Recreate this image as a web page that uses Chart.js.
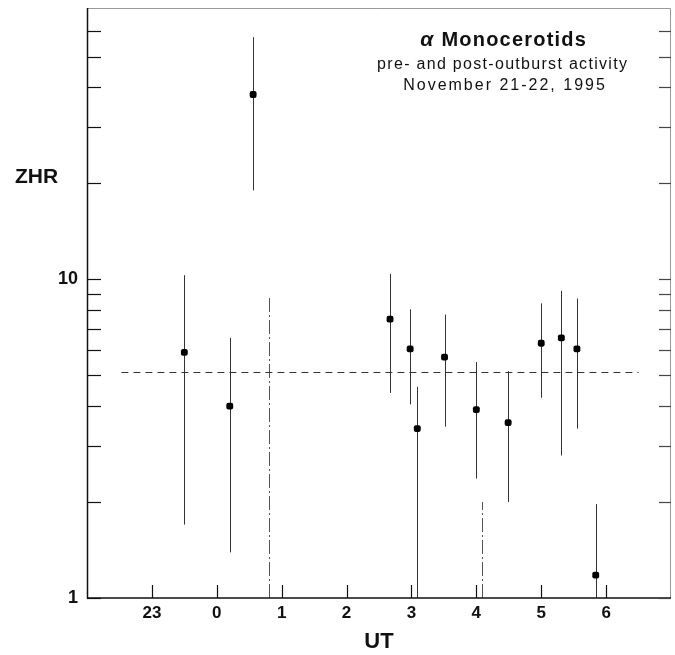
<!DOCTYPE html>
<html>
<head>
<meta charset="utf-8">
<script src="https://cdn.jsdelivr.net/npm/chart.js@4/dist/chart.umd.min.js"></script>
<style>
  html,body{margin:0;padding:0;background:#fff;}
  #wrap{width:675px;height:655px;}
</style>
</head>
<body>
<div id="wrap"><canvas id="c" width="675" height="655"></canvas></div>
<script>
// UT hours, 0 = 0h UT, negative = before midnight (22h, 23h)
const xHours  = [-0.5, 0.2, 0.56, 2.67, 2.98, 3.09, 3.51, 4.0, 4.49, 5.0, 5.31, 5.55, 5.84];
const zhr     = [5.9, 4.0, 38, 7.5, 6.05, 3.4, 5.7, 3.9, 3.55, 6.3, 6.55, 6.05, 1.18];
const zhrHigh = [10.3, 6.55, 57.5, 10.4, 8.05, 4.6, 7.75, 5.5, 5.15, 8.4, 9.2, 8.7, 1.97];
const zhrLow  = [1.7, 1.39, 19, 4.4, 4.05, 1, 3.45, 2.37, 2.0, 4.25, 2.8, 3.4, 1];

// intervals with no meteors seen: only an upper limit
const limitHours = [0.8, 4.08];
const limitHigh  = [8.8, 2.0];

// mean level (dashed)
const meanZhr  = 5.1;
const meanSpan = [-1.47, 6.5];

const xTickVals   = [-1, 0, 1, 2, 3, 4, 5, 6];
const xTickLabels = ['23', '0', '1', '2', '3', '4', '5', '6'];
const yTickVals   = [1, 2, 3, 4, 5, 6, 7, 8, 9, 10, 20, 30, 40, 50, 60];
const yTickLabels = {1: '1', 10: '10'};

const FONT = '"Liberation Sans", Arial, Helvetica, sans-serif';

// text with spacing, centred on cx
function spacedText(ctx, txt, cx, y, font, sp){
  ctx.font = font;
  ctx.letterSpacing = sp + 'px';
  const w = ctx.measureText(txt).width - sp;
  ctx.textAlign = 'left';
  ctx.fillText(txt, cx - w / 2, y);
  ctx.letterSpacing = '0px';
}

// error bars, axis ticks, frame, labels
const decor = {
  id: 'decor',
  beforeDatasetsDraw(chart){
    const ctx = chart.ctx, xs = chart.scales.x, ys = chart.scales.y;
    ctx.save();
    ctx.strokeStyle = '#333';
    ctx.lineWidth = 1;
    xHours.forEach((h, i) => {
      const px = Math.round(xs.getPixelForValue(h)) + 0.5;
      ctx.beginPath();
      ctx.moveTo(px, ys.getPixelForValue(zhrLow[i]));
      ctx.lineTo(px, ys.getPixelForValue(zhrHigh[i]));
      ctx.stroke();
    });
    ctx.strokeStyle = '#555';
    ctx.setLineDash([14, 3, 2, 3]);
    limitHours.forEach((h, i) => {
      const px = Math.round(xs.getPixelForValue(h)) + 0.5;
      ctx.beginPath();
      ctx.moveTo(px, ys.getPixelForValue(1));
      ctx.lineTo(px, ys.getPixelForValue(limitHigh[i]));
      ctx.stroke();
    });
    ctx.restore();
  },
  afterDraw(chart){
    const ctx = chart.ctx, xs = chart.scales.x, ys = chart.scales.y;
    const a = chart.chartArea;
    ctx.save();
    // frame top/right (lighter)
    ctx.strokeStyle = '#999';
    ctx.lineWidth = 1;
    ctx.beginPath();
    ctx.moveTo(a.left, a.top + 0.5);
    ctx.lineTo(a.right - 0.5, a.top + 0.5);
    ctx.lineTo(a.right - 0.5, a.bottom);
    ctx.stroke();
    // left axis
    ctx.strokeStyle = '#111';
    ctx.lineWidth = 1.5;
    ctx.beginPath();
    ctx.moveTo(a.left + 0.5, a.top);
    ctx.lineTo(a.left + 0.5, a.bottom);
    ctx.lineTo(a.right, a.bottom);
    ctx.stroke();
    // y ticks, both sides, pointing inward
    ctx.lineWidth = 1.2;
    yTickVals.forEach(v => {
      const py = Math.round(ys.getPixelForValue(v)) + 0.5;
      ctx.strokeStyle = '#111';
      ctx.beginPath();
      ctx.moveTo(a.left, py); ctx.lineTo(a.left + 14, py);
      ctx.stroke();
      ctx.strokeStyle = '#444';
      ctx.beginPath();
      ctx.moveTo(a.right, py); ctx.lineTo(a.right - 12, py);
      ctx.stroke();
    });
    // x ticks upward
    ctx.strokeStyle = '#111';
    xTickVals.forEach(v => {
      const px = Math.round(xs.getPixelForValue(v)) + 0.5;
      ctx.beginPath();
      ctx.moveTo(px, a.bottom); ctx.lineTo(px, a.bottom - 13);
      ctx.stroke();
    });
    // ZHR label
    ctx.fillStyle = '#111';
    ctx.font = 'bold 21px ' + FONT;
    ctx.textAlign = 'left';
    ctx.textBaseline = 'alphabetic';
    ctx.fillText('ZHR', 15, 183);
    // title block
    const cx = 503;
    ctx.letterSpacing = '1.2px';
    ctx.font = 'bold italic 21px ' + FONT;
    const wA = ctx.measureText('\u03b1 ').width;
    ctx.font = 'bold 20px ' + FONT;
    const wM = ctx.measureText('Monocerotids').width - 1.2;
    const sx = cx - (wA + wM) / 2;
    ctx.font = 'bold italic 21px ' + FONT;
    ctx.fillText('\u03b1 ', sx, 46);
    ctx.font = 'bold 20px ' + FONT;
    ctx.fillText('Monocerotids', sx + wA, 46);
    ctx.letterSpacing = '0px';
    spacedText(ctx, 'pre- and post-outburst activity', 502, 69, '16px ' + FONT, 1.3);
    spacedText(ctx, 'November 21-22, 1995', 504, 90, '16px ' + FONT, 2.0);
    ctx.restore();
  }
};

new Chart(document.getElementById('c'), {
  type: 'scatter',
  data: {
    datasets: [
      {
        label: 'ZHR',
        data: xHours.map((h, i) => ({x: h, y: zhr[i]})),
        backgroundColor: '#000',
        borderColor: '#000',
        pointStyle: 'rectRounded',
        pointRadius: 4,
        borderWidth: 0
      },
      {
        type: 'line',
        label: 'mean',
        data: [{x: meanSpan[0], y: meanZhr}, {x: meanSpan[1], y: meanZhr}],
        borderColor: '#333',
        borderWidth: 1,
        borderDash: [7, 5],
        pointRadius: 0,
        fill: false
      }
    ]
  },
  options: {
    responsive: false,
    animation: false,
    layout: {padding: {top: 8, right: 3, left: 0, bottom: 0}},
    plugins: {legend: {display: false}, tooltip: {enabled: false}, title: {display: false}},
    scales: {
      x: {
        type: 'linear',
        min: -2, max: 7,
        grid: {display: false, drawTicks: false},
        border: {display: false},
        afterBuildTicks: s => { s.ticks = xTickVals.map(v => ({value: v})); },
        afterFit: s => { s.height = 57; s.paddingLeft = 0; s.paddingRight = 0; },
        ticks: {
          padding: 5,
          color: '#111',
          font: {family: FONT, size: 17, weight: 'bold'},
          callback: v => xTickLabels[xTickVals.indexOf(v)] ?? ''
        },
        title: {
          display: true, text: 'UT', color: '#111',
          font: {family: FONT, size: 22, weight: 'bold'},
          padding: {top: 0, bottom: 0}
        }
      },
      y: {
        type: 'logarithmic',
        min: 1, max: 71,
        grid: {display: false, drawTicks: false},
        border: {display: false},
        afterBuildTicks: s => { s.ticks = yTickVals.map(v => ({value: v})); },
        afterFit: s => { s.width = 87; s.paddingTop = 0; s.paddingBottom = 0; },
        ticks: {
          padding: 9,
          color: '#111',
          autoSkip: false,
          font: {family: FONT, size: 18, weight: 'bold'},
          callback: v => yTickLabels[v] ?? ''
        }
      }
    }
  },
  plugins: [decor]
});
</script>
</body>
</html>
